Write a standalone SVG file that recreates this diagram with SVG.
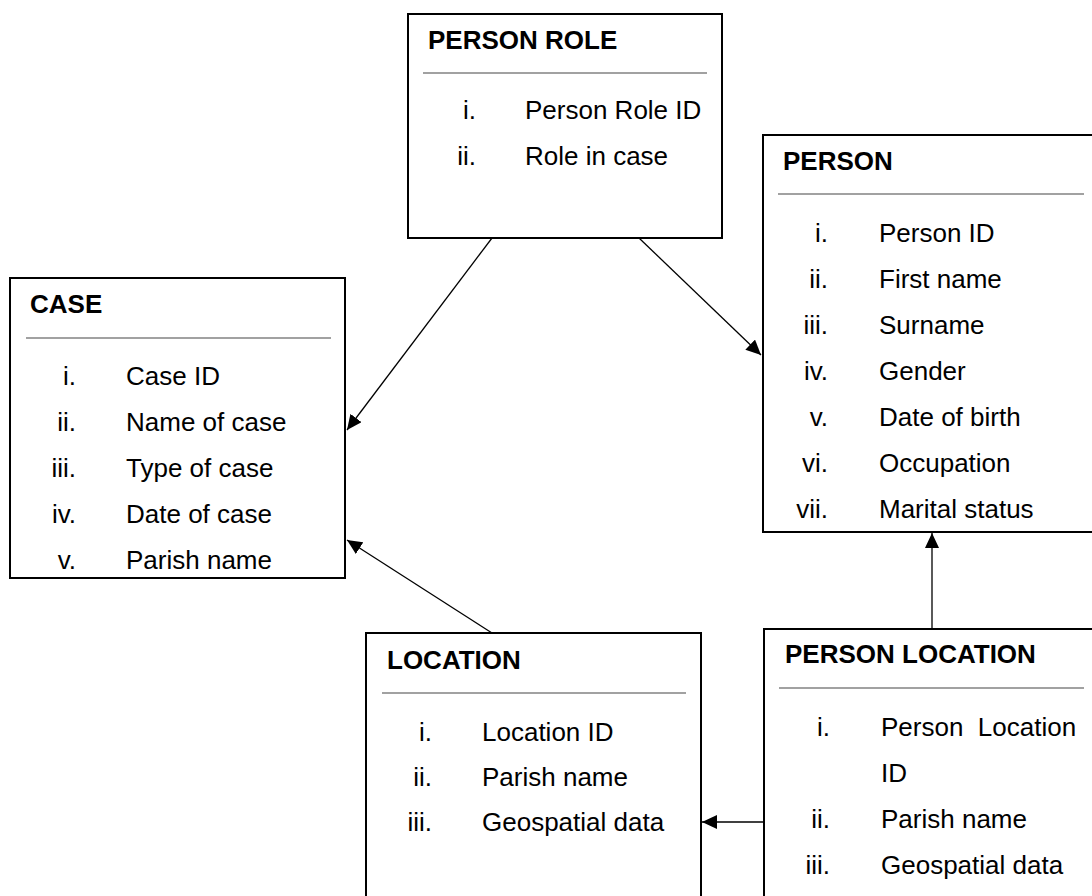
<svg xmlns="http://www.w3.org/2000/svg" width="1092" height="896" viewBox="0 0 1092 896">
<style>
.box{fill:#fff;stroke:#000;stroke-width:2}
.rule{stroke:#444;stroke-width:1.2}
.hd{font-family:"Liberation Sans",Arial,sans-serif;font-weight:bold;font-size:26px;fill:#000}
.it{font-family:"Liberation Sans",Arial,sans-serif;font-size:26px;fill:#000}
.num{font-family:"Liberation Sans",Arial,sans-serif;font-size:26px;fill:#000;text-anchor:end}
.conn{stroke:#000;stroke-width:1.3;fill:none;marker-end:url(#arr)}
</style>
<defs>
<marker id="arr" markerUnits="userSpaceOnUse" markerWidth="16" markerHeight="14" refX="15" refY="7" orient="auto">
<path d="M0,0 L15,7 L0,14 Z" fill="#000"/>
</marker>
</defs>
<g id="connectors">
<line class="conn" x1="492" y1="238" x2="347" y2="430"/>
<line class="conn" x1="639" y1="238" x2="761" y2="355"/>
<line class="conn" x1="492" y1="633" x2="347" y2="540"/>
<line class="conn" x1="932" y1="629" x2="932" y2="533"/>
<line class="conn" x1="764" y1="822" x2="702" y2="822"/>
</g>
<g id="person-role">
<rect class="box" x="408" y="14" width="314" height="224"/>
<text class="hd" x="428" y="49">PERSON ROLE</text>
<line class="rule" x1="423" y1="73" x2="707" y2="73"/>
<text class="num" x="476" y="119">i.</text><text class="it" x="525" y="119">Person Role ID</text>
<text class="num" x="476" y="165">ii.</text><text class="it" x="525" y="165">Role in case</text>
</g>
<g id="case">
<rect class="box" x="10" y="278" width="335" height="300"/>
<text class="hd" x="30" y="313">CASE</text>
<line class="rule" x1="26" y1="338" x2="331" y2="338"/>
<text class="num" x="76" y="385">i.</text><text class="it" x="126" y="385">Case ID</text>
<text class="num" x="76" y="431">ii.</text><text class="it" x="126" y="431">Name of case</text>
<text class="num" x="76" y="477">iii.</text><text class="it" x="126" y="477">Type of case</text>
<text class="num" x="76" y="523">iv.</text><text class="it" x="126" y="523">Date of case</text>
<text class="num" x="76" y="569">v.</text><text class="it" x="126" y="569">Parish name</text>
</g>
<g id="person">
<rect class="box" x="763" y="135" width="340" height="397"/>
<text class="hd" x="783" y="170">PERSON</text>
<line class="rule" x1="778" y1="194" x2="1084" y2="194"/>
<text class="num" x="828" y="242">i.</text><text class="it" x="879" y="242">Person ID</text>
<text class="num" x="828" y="288">ii.</text><text class="it" x="879" y="288">First name</text>
<text class="num" x="828" y="334">iii.</text><text class="it" x="879" y="334">Surname</text>
<text class="num" x="828" y="380">iv.</text><text class="it" x="879" y="380">Gender</text>
<text class="num" x="828" y="426">v.</text><text class="it" x="879" y="426">Date of birth</text>
<text class="num" x="828" y="472">vi.</text><text class="it" x="879" y="472">Occupation</text>
<text class="num" x="828" y="518">vii.</text><text class="it" x="879" y="518">Marital status</text>
</g>
<g id="location">
<rect class="box" x="366" y="633" width="335" height="280"/>
<text class="hd" x="387" y="669">LOCATION</text>
<line class="rule" x1="382" y1="693" x2="686" y2="693"/>
<text class="num" x="432" y="741">i.</text><text class="it" x="482" y="741">Location ID</text>
<text class="num" x="432" y="786">ii.</text><text class="it" x="482" y="786">Parish name</text>
<text class="num" x="432" y="831">iii.</text><text class="it" x="482" y="831">Geospatial data</text>
</g>
<g id="person-location">
<rect class="box" x="764" y="629" width="340" height="290"/>
<text class="hd" x="785" y="663">PERSON LOCATION</text>
<line class="rule" x1="779" y1="688" x2="1084" y2="688"/>
<text class="num" x="830" y="736">i.</text><text class="it" x="881" y="736" xml:space="preserve">Person  Location</text>
<text class="it" x="881" y="782">ID</text>
<text class="num" x="830" y="828">ii.</text><text class="it" x="881" y="828">Parish name</text>
<text class="num" x="830" y="874">iii.</text><text class="it" x="881" y="874">Geospatial data</text>
</g>
</svg>
